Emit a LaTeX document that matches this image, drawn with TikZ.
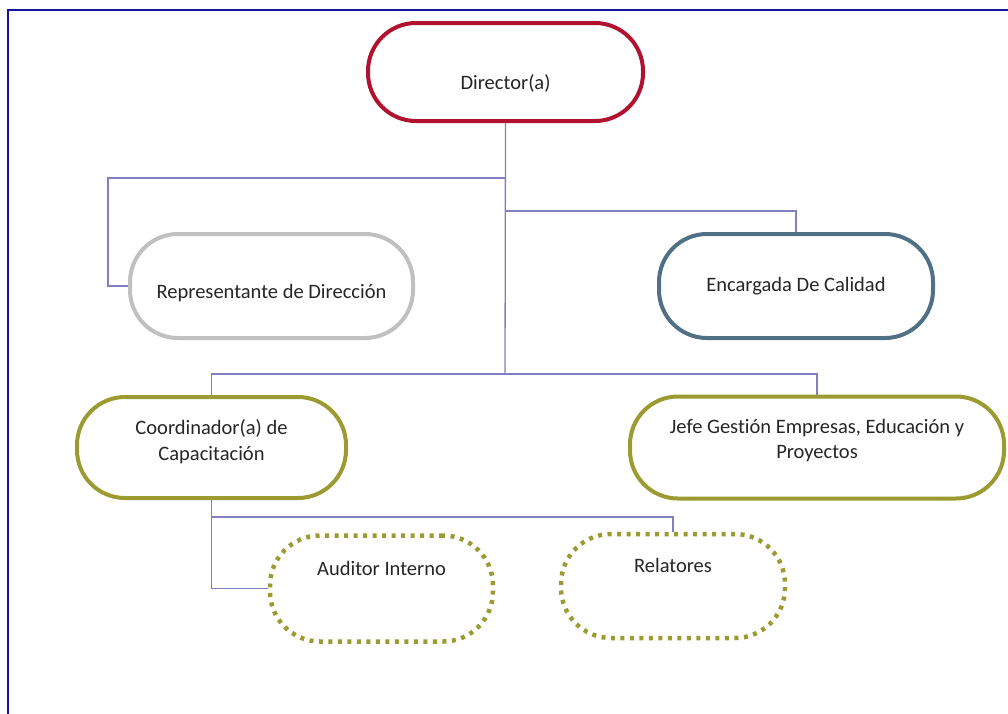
\documentclass[tikz,border=0pt]{standalone}
\usepackage{fontspec}
\setmainfont{Carlito}[Ligatures=NoCommon]
\definecolor{dirc}{RGB}{176,18,48}
\definecolor{grayc}{RGB}{192,192,192}
\definecolor{bluec}{RGB}{80,113,133}
\definecolor{olivec}{RGB}{155,155,50}
\definecolor{connc}{RGB}{128,128,190}
\definecolor{framec}{RGB}{20,20,160}
\definecolor{txtc}{RGB}{38,38,38}
\begin{document}
\begin{tikzpicture}[x=1pt,y=-1pt,
  box/.style={draw=#1, rounded corners=48pt, line width=4pt, fill=white, inner sep=0pt},
  dotbox/.style={draw=#1, rounded corners=50pt, line width=4.5pt, dash pattern=on 4pt off 5.5pt, fill=white, inner sep=0pt},
  txt/.style={font=\fontsize{20.5}{25.5}\selectfont, text=txtc, align=center, inner sep=0pt},
  conn/.style={draw=connc, line width=1.3pt}]
\useasboundingbox (0,0) rectangle (1008,713);
\draw[draw=framec, line width=2pt] (7.7,10.3) rectangle (1040,740);

% connector junctions
\coordinate (jr) at (505,178);
\coordinate (je) at (505,211);
\coordinate (jm) at (505,374);
\coordinate (jc) at (211,517);

% boxes
\node[box=dirc, minimum width=275pt, minimum height=98pt] (dir) at (505.5,72) {};
\node[box=grayc, minimum width=283pt, minimum height=104pt] (rep) at (271.5,286) {};
\node[box=bluec, minimum width=274pt, minimum height=104pt] (enc) at (796,286) {};
\node[box=olivec, minimum width=269pt, minimum height=101pt] (coo) at (211.5,447.5) {};
\node[box=olivec, minimum width=374pt, minimum height=102pt] (jef) at (817,447.5) {};
\node[dotbox=olivec, minimum width=223pt, minimum height=106pt] (aud) at (381.5,588.5) {};
\node[dotbox=olivec, minimum width=224pt, minimum height=104pt] (rel) at (673,586) {};

\draw[conn] (dir.south) -- (jm);
\draw[conn] (jr) -| ([xshift=-20pt]rep.west) -- (rep.west);
\draw[conn] (je) -| (enc.north);
\draw[conn] (coo.north) |- (jm) -| (jef.north);
\draw[conn] (coo.south) |- (aud.west);
\draw[conn] (jc) -| (rel.north);

% texts
\node[txt] (dirt) at ([yshift=-11pt]dir.center) {Director(a)};
\node[txt] (rept) at ([yshift=-7pt]rep.center) {Representante de Dirección};
\node[txt] (enct) at ([yshift=0pt]enc.center) {Encargada De Calidad};
\node[txt] (coot) at ([yshift=6pt]coo.center) {Coordinador(a) de\\Capacitación};
\node[txt] (jeft) at ([yshift=7pt]jef.center) {Jefe Gestión Empresas, Educación y\\Proyectos};
\node[txt] (audt) at ([yshift=20pt]aud.center) {Auditor Interno};
\node[txt] (relt) at ([yshift=21pt]rel.center) {Relatores};
\end{tikzpicture}
\end{document}
